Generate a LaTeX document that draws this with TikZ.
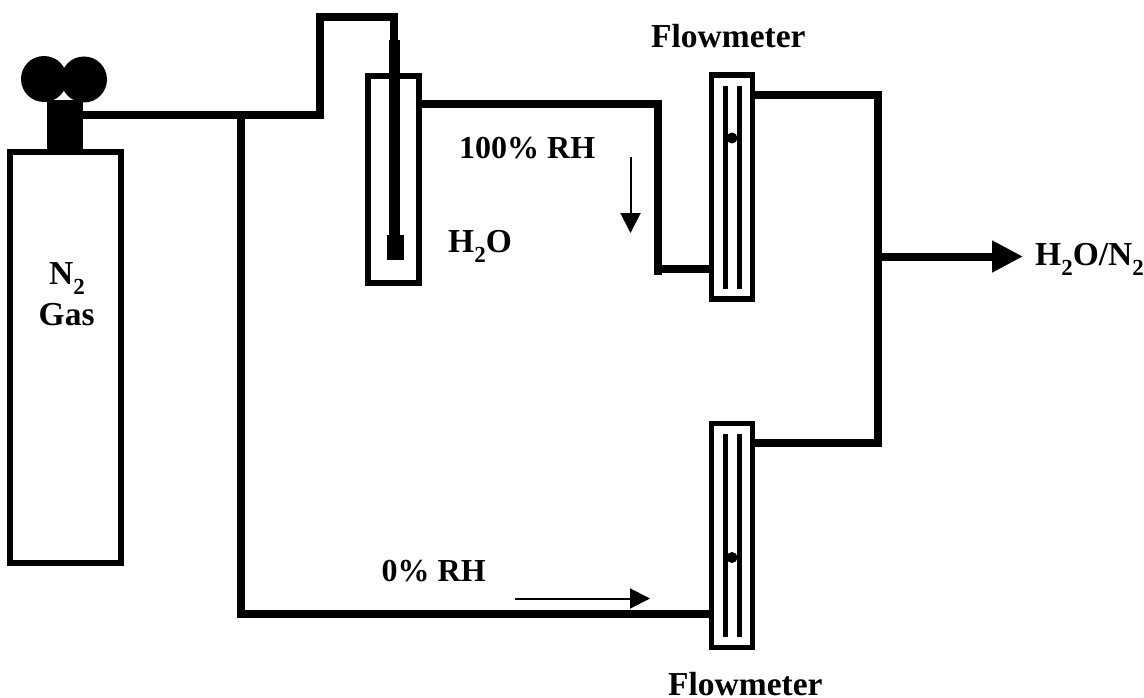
\documentclass[tikz,border=0pt]{standalone}
\usepackage{fontspec}
\setmainfont{Liberation Serif}
\usetikzlibrary{arrows.meta}
\newcommand{\subtwo}{\raisebox{-.3em}{\fontsize{23}{23}\selectfont 2}}
\tikzset{
 pipe/.style={line width=8pt},
 vessel/.style={draw,line width=5.5pt,inner sep=0pt,outer sep=0pt},
 meter/.style={vessel,minimum width=41pt,minimum height=224pt},
 meterbar/.style={fill,inner sep=0pt,outer sep=0pt,minimum width=5pt,minimum height=203pt},
 solid block/.style={fill,inner sep=0pt,outer sep=0pt},
 knob/.style={fill,circle,inner sep=0pt,outer sep=0pt,minimum size=46pt},
 flowball/.style={fill,circle,inner sep=0pt,outer sep=0pt,minimum size=11pt},
 lbl/.style={inner sep=0pt,anchor=base west,font=\fontsize{33.5}{38}\selectfont\bfseries},
 smalllbl/.style={lbl,font=\fontsize{32}{38}\selectfont\bfseries},
 flowarrow/.style={line width=2pt,-{Triangle[length=20pt,width=20pt]}}
}
\begin{document}
\begin{tikzpicture}[x=1pt,y=-1pt]
\useasboundingbox (0,0) rectangle (1144,698);
% gas bottle
\node[vessel,minimum width=111pt,minimum height=411pt] (bottle) at (65.5,357.5) {};
\node[solid block,minimum width=36pt,minimum height=50pt] (neck) at (65,125) {};
\node[knob] (knobl) at (44,79) {};
\node[knob] (knobr) at (84,79.5) {};
\node[lbl] (ntwo) at (49,284) {N\subtwo};
\node[lbl] (gas) at (38.5,325) {Gas};
% water vessel
\node[vessel,minimum width=51pt,minimum height=207pt] (bubbler) at (393.5,179.5) {};
\node[solid block,minimum width=11pt,minimum height=195pt] (dip) at (394.5,137.5) {};
\node[solid block,minimum width=17pt,minimum height=25pt] (sinter) at (395.5,247.5) {};
\node[lbl] (water) at (448,252.5) {H\subtwo O};
% upper flowmeter
\node[meter] (fmup) at (732,187) {};
\node[meterbar] (fmupl) at (725,187.5) {};
\node[meterbar] (fmupr) at (739,187.5) {};
\node[flowball] (ballup) at (732,138) {};
\node[lbl] (fmuptxt) at (651,48) {Flowmeter};
% lower flowmeter
\node[meter] (fmlow) at (732,535.5) {};
\node[meterbar] (fmlowl) at (725,535.5) {};
\node[meterbar] (fmlowr) at (739,535.5) {};
\node[flowball] (balllow) at (732,557.5) {};
\node[lbl] (fmlowtxt) at (668,695) {Flowmeter};
% pipe corners
\coordinate (split) at (241,115);
\coordinate (riser) at (319.5,115);
\coordinate (risertop) at (319.5,17);
\coordinate (bubtop) at (394,17);
\coordinate (wetcorner) at (658,104.5);
\coordinate (wetend) at (658,275);
\coordinate (wetin) at (658,269);
\coordinate (drycorner) at (241,614);
\coordinate (outtop) at (878,95);
\coordinate (outlow) at (878,443);
\coordinate (outmid) at (878,256.5);
\coordinate (outtip) at (1023,256.5);
% pipes
\draw[pipe] (neck.east |- split) -- (riser) -- (risertop) -- (bubtop) -- (dip.north -| bubtop);
\draw[pipe] (split) -- (drycorner) -- (fmlow.west |- drycorner);
\draw[pipe] (bubbler.east |- wetcorner) -- (wetcorner) -- (wetend);
\draw[pipe] (wetin) -- (fmup.west |- wetin);
\draw[pipe] (fmup.east |- outtop) -- (outtop) -- (outlow) -- (fmlow.east |- outlow);
\draw[pipe,-{Triangle[length=31pt,width=30pt]}] (outmid) -- (outtip);
\node[lbl] (mixtxt) at (1035,265) {H\subtwo O/N\subtwo};
% flow direction
\node[smalllbl] (wettxt) at (459,159) {100\% RH};
\coordinate (wetfrom) at (630.5,157);
\coordinate (wetto) at (630.5,233);
\draw[flowarrow] (wetfrom) -- (wetto);
\node[smalllbl] (drytxt) at (381.5,581) {0\% RH};
\coordinate (dryfrom) at (515,598.5);
\coordinate (dryto) at (650,598.5);
\draw[flowarrow] (dryfrom) -- (dryto);
\end{tikzpicture}
\end{document}
